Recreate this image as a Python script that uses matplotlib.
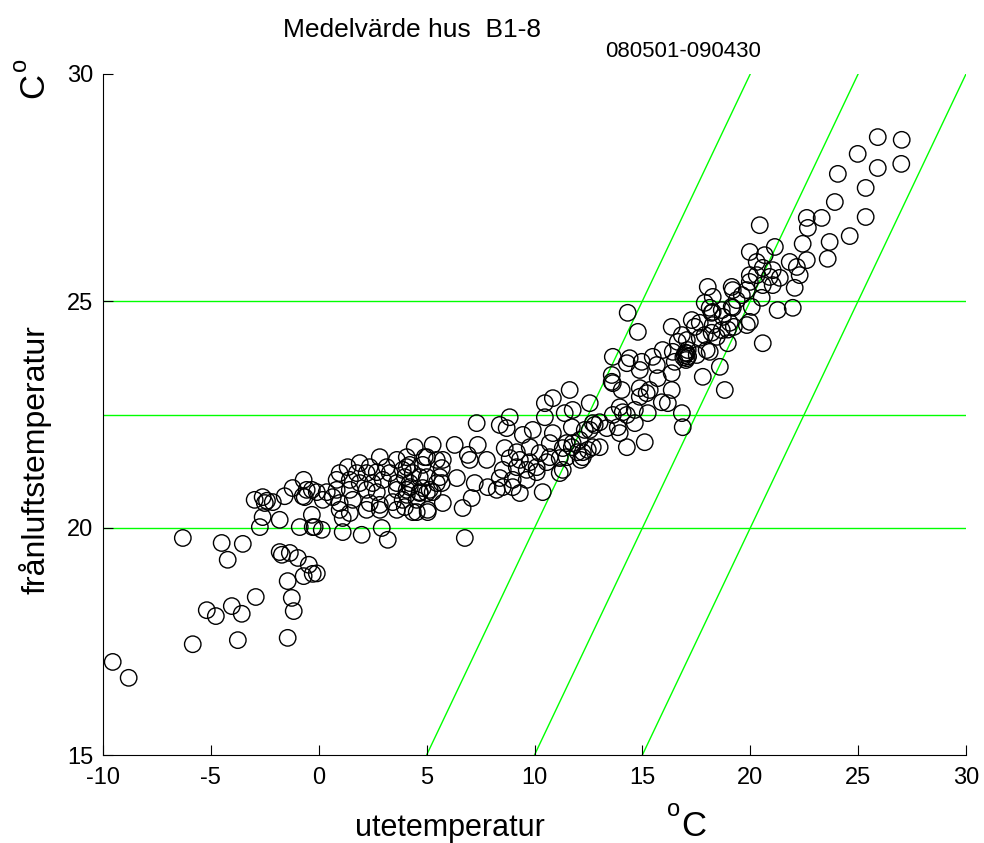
import matplotlib
matplotlib.use("Agg")
import matplotlib.pyplot as plt
import numpy as np

plt.rcParams['font.family'] = ['Liberation Sans', 'DejaVu Sans']
plt.rcParams['axes.unicode_minus'] = False

# utetemperatur (x) and frånluftstemperatur (y)
ute = [
    -9.55, -8.81, -6.30, -5.84, -5.19, -4.77, -4.50, -3.52, -4.22, -4.03,
    -3.57, -3.75, -2.92, -1.44, -1.44, -1.25, -1.16, -1.81, -1.71, -1.34,
    -0.97, -0.46, -0.70, -0.28, -0.09, -2.97, -2.60, -2.13, -1.58, -1.21,
    -0.70, -0.74, -0.32, -2.60, -1.81, -2.73, -0.88, -0.28, -0.32, -2.40,
    -2.50,
    4.45, 5.28, 5.01, 5.47, 2.83, 3.62, 4.22, 1.90, 1.34, 2.36,
    3.15, 0.97, 1.76, 2.22, 2.69, 3.29, 3.89, 4.36, 5.01, 0.83,
    1.44, 1.90, 2.50, 2.97, 3.62, 4.22, 5.47, -0.56, -0.09, 0.37,
    0.83, 1.44, 2.22, 2.69, 3.62, 4.08, 4.68, 5.14, -0.65, 0.19,
    0.65, 0.97, 1.58, 2.36, 2.83, 3.43, 3.89, 4.54, 5.01, 0.97,
    1.44, 2.22, 2.83, 3.62, 4.36, 5.05, 1.11, -0.19, 0.14, 1.11,
    1.99, 2.92, 3.20,
    11.63, 10.85, 10.48, 11.77, 12.56, 10.48, 8.85, 8.39, 8.71, 7.32,
    9.92, 9.46, 10.85, 11.73, 12.33, 12.70, 10.71, 11.31, 11.77, 12.24,
    12.70, 6.30, 7.37, 8.62, 9.18, 9.78, 10.24, 10.71, 11.17, 4.08,
    4.91, 5.75, 6.91, 7.00, 7.79, 8.85, 9.32, 9.78, 10.10, 10.57,
    4.08, 4.82, 5.70, 8.53, 9.18, 9.64, 10.10, 11.17, 3.99, 4.68,
    5.61, 6.40, 7.23, 8.39, 8.99, 9.64, 4.22, 4.82, 5.70, 7.83,
    8.53, 8.99, 9.32, 10.38, 4.08, 4.68, 5.28, 5.75, 7.09, 8.25,
    3.99, 4.54, 5.05, 6.67, 6.77,
    14.32, 14.79, 16.36, 16.83, 17.29, 17.66, 18.26, 18.73, 19.19, 18.21,
    18.96, 18.96, 18.45, 17.66, 17.98, 18.59, 18.82, 16.64, 17.10, 16.96,
    17.00, 16.90, 17.12, 17.06, 17.02, 16.41, 15.94, 16.50, 17.80, 13.63,
    14.41, 14.97, 15.48, 15.67, 14.28, 14.88, 16.36, 15.71, 13.58, 13.58,
    13.63, 14.04, 14.88, 15.20, 14.88, 15.34, 15.90, 16.36, 16.18, 11.40,
    13.95, 14.09, 13.63, 14.65, 15.25, 14.28, 16.83, 16.87, 13.02, 12.79,
    12.56, 13.35, 13.86, 13.95, 14.65, 15.11, 14.28, 13.02, 12.47, 12.24,
    12.00, 11.73, 11.49, 12.10, 11.49, 12.14, 11.31,
    20.44, 22.62, 23.31, 22.67, 24.61, 23.68, 22.43, 23.59, 22.62, 21.14,
    19.98, 20.67, 21.83, 20.30, 22.16, 20.58, 21.04, 20.90, 21.37, 22.29,
    20.30, 19.98, 21.04, 22.06, 20.58, 19.98, 18.03, 19.14, 19.19, 19.84,
    19.61, 18.26, 19.37, 20.53, 17.89, 19.14, 20.07, 21.27, 21.97, 18.12,
    18.68, 18.21, 17.43, 18.26, 19.05, 19.98, 18.68, 19.24, 19.84, 17.89,
    17.06, 20.58, 18.12, 17.06, 17.52, 23.92,
    25.91, 27.02, 24.98, 25.91, 27.00, 24.06, 25.35, 25.35,
]
franluft = [
    17.05, 16.70, 19.78, 17.44, 18.19, 18.06, 19.67, 19.65, 19.30, 18.28,
    18.11, 17.53, 18.48, 17.58, 18.83, 18.46, 18.17, 19.47, 19.41, 19.45,
    19.34, 19.19, 18.94, 18.99, 19.00, 20.62, 20.68, 20.57, 20.70, 20.88,
    21.06, 20.70, 20.84, 20.24, 20.18, 20.02, 20.02, 20.02, 20.29, 20.60,
    20.55,
    21.78, 21.83, 21.56, 21.50, 21.56, 21.50, 21.39, 21.43, 21.34, 21.34,
    21.34, 21.21, 21.21, 21.21, 21.23, 21.21, 21.28, 21.21, 21.12, 21.06,
    21.06, 20.99, 20.99, 21.06, 20.99, 20.99, 20.99, 20.84, 20.79, 20.79,
    20.84, 20.84, 20.84, 20.79, 20.84, 20.84, 20.79, 20.84, 20.68, 20.62,
    20.68, 20.55, 20.62, 20.55, 20.51, 20.57, 20.62, 20.62, 20.77, 20.40,
    20.33, 20.40, 20.40, 20.40, 20.35, 20.40, 20.22, 20.02, 19.96, 19.91,
    19.85, 20.00, 19.74,
    23.04, 22.86, 22.75, 22.60, 22.75, 22.44, 22.44, 22.27, 22.20, 22.31,
    22.16, 22.05, 22.09, 22.22, 22.16, 22.31, 21.87, 21.76, 21.87, 21.67,
    21.78, 21.83, 21.83, 21.76, 21.67, 21.78, 21.65, 21.56, 21.54, 21.56,
    21.56, 21.50, 21.61, 21.50, 21.50, 21.54, 21.50, 21.45, 21.34, 21.45,
    21.34, 21.39, 21.32, 21.28, 21.34, 21.28, 21.23, 21.21, 21.12, 21.12,
    21.12, 21.10, 20.99, 21.10, 21.06, 21.06, 20.90, 20.88, 20.99, 20.90,
    20.90, 20.90, 20.77, 20.79, 20.73, 20.77, 20.79, 20.55, 20.66, 20.84,
    20.46, 20.35, 20.35, 20.44, 19.78,
    24.74, 24.32, 24.43, 24.25, 24.58, 24.52, 24.76, 24.65, 24.85, 24.30,
    24.37, 24.07, 24.21, 24.19, 23.92, 23.55, 23.04, 24.10, 23.92, 23.81,
    23.86, 23.76, 23.78, 23.74, 23.70, 23.88, 23.92, 23.66, 23.33, 23.77,
    23.74, 23.66, 23.77, 23.59, 23.63, 23.48, 23.41, 23.30, 23.37, 23.22,
    23.19, 23.04, 23.08, 22.97, 22.89, 23.04, 22.77, 23.04, 22.75, 22.53,
    22.66, 22.55, 22.49, 22.60, 22.53, 22.49, 22.53, 22.22, 22.33, 22.27,
    22.16, 22.20, 22.22, 22.09, 22.31, 21.89, 21.78, 21.78, 21.72, 21.56,
    21.67, 21.78, 21.87, 21.94, 21.56, 21.50, 21.28,
    26.67, 26.83, 26.83, 26.61, 26.43, 26.30, 26.26, 25.93, 25.90, 26.19,
    26.08, 26.01, 25.86, 25.86, 25.75, 25.73, 25.68, 25.53, 25.51, 25.57,
    25.57, 25.57, 25.35, 25.29, 25.35, 25.42, 25.31, 25.31, 25.24, 25.24,
    25.13, 25.09, 25.02, 25.07, 24.96, 24.87, 24.87, 24.80, 24.85, 24.85,
    24.80, 24.74, 24.43, 24.47, 24.52, 24.54, 24.36, 24.43, 24.47, 24.25,
    24.14, 24.07, 23.88, 23.85, 23.81, 27.18,
    28.61, 28.55, 28.24, 27.93, 28.02, 27.80, 27.49, 26.85,
]

# reference lines
hlines = [20, 22.5, 25]
diag_offsets = [10, 5, 0]   # y = x + offset
xticks = [-10, -5, 0, 5, 10, 15, 20, 25, 30]
yticks = [15, 20, 25, 30]

fig = plt.figure(figsize=(9.84, 8.43), dpi=100)
ax = fig.add_axes([103/984, 1-755/843, 863/984, 681/843])

green = (0, 1, 0)
for h in hlines:
    ax.axhline(h, color=green, lw=1.0, zorder=1)
xx = np.array([-10, 30])
for off in diag_offsets:
    ax.plot(xx, xx + off, color=green, lw=1.0, zorder=1)

ax.scatter(ute, franluft, s=140, facecolors='none', edgecolors='black',
           linewidths=1.0, zorder=2, clip_on=True)

ax.set_xlim(-10, 30)
ax.set_ylim(15, 30)
ax.set_xticks(xticks)
ax.set_yticks(yticks)
ax.spines['top'].set_visible(False)
ax.spines['right'].set_visible(False)
ax.tick_params(direction='in', length=7, width=0.8, labelsize=17)
ax.tick_params(axis='x', pad=9)
ax.tick_params(axis='y', pad=7)

# titles and labels
fig.text(283/984, 1-37/843, 'Medelvärde hus  B1-8', fontsize=19, va='baseline')
fig.text(605/984, 1-57/843, '080501-090430', fontsize=16, va='baseline')
fig.text(450/984, 1-836/843, 'utetemperatur', fontsize=22, ha='center', va='baseline')
fig.text(681/984, 1-836/843, 'C', fontsize=25, va='baseline')
fig.text(667/984, 1-816/843, 'o', fontsize=17, va='baseline')
fig.text(35/984, 1-460/843, 'frånluftstemperatur', fontsize=23, rotation=90,
         ha='center', va='center')
fig.text(34/984, 1-86/843, 'C', fontsize=25, rotation=90, ha='center', va='center')
fig.text(20/984, 1-64/843, 'o', fontsize=17, rotation=90, ha='center', va='center')

fig.savefig('out.png', dpi=100)
